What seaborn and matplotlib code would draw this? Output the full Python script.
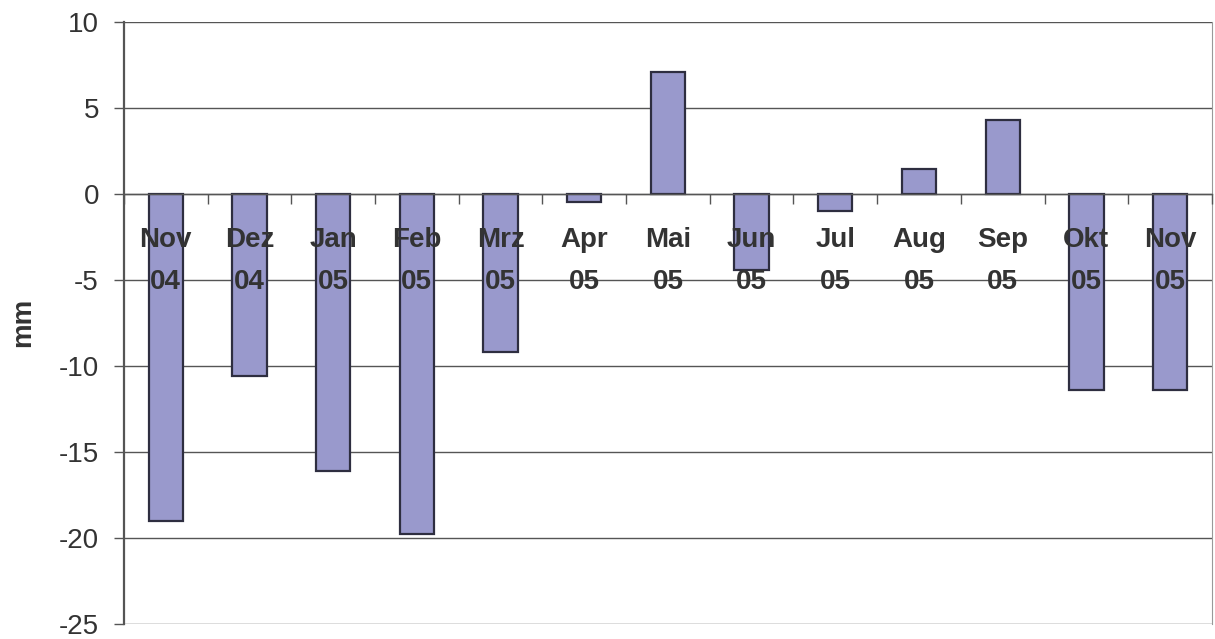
import seaborn as sns
import matplotlib.pyplot as plt
from matplotlib.ticker import FixedLocator

# data
months = ["Nov\n04", "Dez\n04", "Jan\n05", "Feb\n05", "Mrz\n05", "Apr\n05", "Mai\n05",
          "Jun\n05", "Jul\n05", "Aug\n05", "Sep\n05", "Okt\n05", "Nov\n05"]
values = [-19.0, -10.6, -16.1, -19.8, -9.2, -0.45, 7.1, -4.4, -1.0, 1.45, 4.3, -11.4, -11.4]
yticks = [-25, -20, -15, -10, -5, 0, 5, 10]

bar_color = "#9999CC"
edge_color = "#2E2E40"
text_color = "#333333"

sns.set_style("white")
plt.rcParams['font.family'] = ['Liberation Sans', 'DejaVu Sans']
plt.rcParams['axes.unicode_minus'] = False

fig, ax = plt.subplots(figsize=(12.15, 6.39), dpi=100)
fig.subplots_adjust(left=0.102, right=0.9975, bottom=0.024, top=0.9656)

# gridlines behind bars, tick labels above bars
for y in yticks:
    ax.axhline(y, color="#555555", linewidth=1.0, zorder=0.5)

sns.barplot(x=months, y=values, color=bar_color, saturation=1, width=0.41,
            edgecolor=edge_color, linewidth=1.6, ax=ax, zorder=1)
ax.set_axisbelow(False)

ax.set_ylim(-25, 10)
ax.set_xlim(-0.5, len(months) - 0.5)
ax.set_yticks(yticks)
ax.tick_params(axis="y", direction="out", length=7, width=1.0, color="#555555",
               labelsize=20, labelcolor=text_color, pad=11, left=True)

# x axis sits on zero, ticks between categories
ax.spines["bottom"].set_position(("data", 0))
ax.spines["bottom"].set_color("#555555")
ax.spines["bottom"].set_linewidth(1.0)
ax.xaxis.set_minor_locator(FixedLocator([i - 0.5 for i in range(len(months) + 1)]))
ax.tick_params(axis="x", which="minor", direction="out", length=7, width=1.0,
               color="#555555", bottom=True)
ax.tick_params(axis="x", which="major", length=0, pad=24, labelsize=20,
               labelcolor=text_color)
for lab in ax.get_xticklabels():
    lab.set_fontweight("bold")
    lab.set_linespacing(1.8)

ax.spines["left"].set_color("#555555")
ax.spines["left"].set_linewidth(1.6)
ax.spines["right"].set_visible(True)
ax.spines["right"].set_color("#999999")
ax.spines["top"].set_visible(False)

ax.set_xlabel("")
ax.set_ylabel("mm", fontsize=20, fontweight="bold", color=text_color, labelpad=16)

plt.savefig("out.png", dpi=100)
